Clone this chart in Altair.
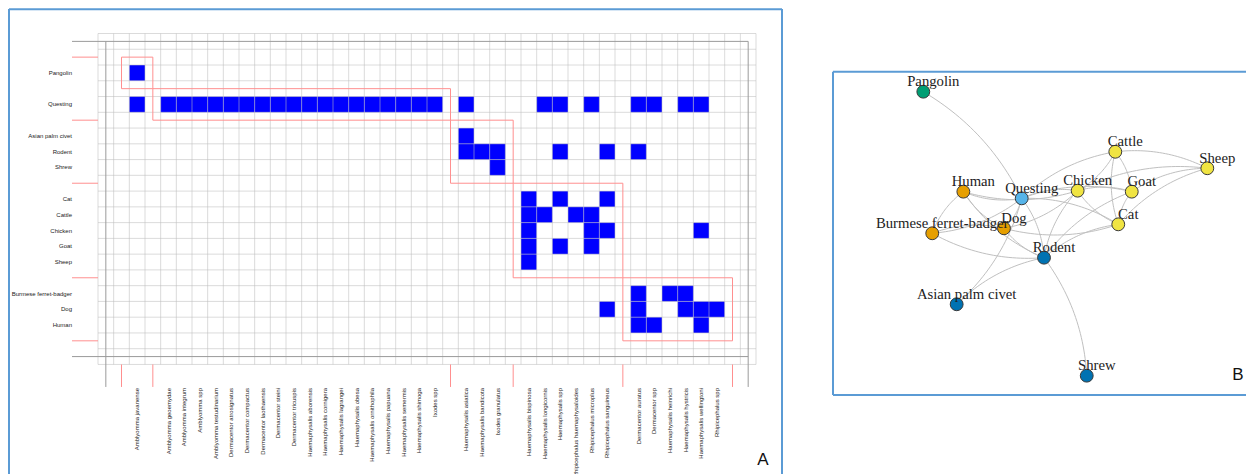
import pandas as pd
import altair as alt

# ---------------- Panel A data: modules of hosts and tick species ----------------
module_hosts = [
    ["Pangolin"],
    ["Questing"],
    ["Asian palm civet", "Rodent", "Shrew"],
    ["Cat", "Cattle", "Chicken", "Goat", "Sheep"],
    ["Burmese ferret-badger", "Dog", "Human"],
]
module_ticks = [
    ["Amblyomma javanense"],
    ["Amblyomma geoemydae", "Amblyomma integrum", "Amblyomma spp", "Amblyomma testudinarium",
     "Dermacentor atrosignatus", "Dermacentor compactus", "Dermacentor laothaensis",
     "Dermacentor steini", "Dermacentor tricuspis", "Haemaphysalis aborensis",
     "Haemaphysalis cornigera", "Haemaphysalis lagrangei", "Haemaphysalis obesa",
     "Haemaphysalis ornithophila", "Haemaphysalis papuana", "Haemaphysalis semermis",
     "Haemaphysalis shimoga", "Ixodes spp"],
    ["Haemaphysalis asiatica", "Haemaphysalis bandicota", "Ixodes granulatus"],
    ["Haemaphysalis bispinosa", "Haemaphysalis longicornis", "Haemaphysalis spp",
     "Rhipicephalus haemaphysaloides", "Rhipicephalus microplus", "Rhipicephalus sanguineus"],
    ["Dermacentor auratus", "Dermacentor spp", "Haemaphysalis heinrichi",
     "Haemaphysalis hystricis", "Haemaphysalis wellingtoni", "Rhipicephalus spp"],
]

links_pangolin = ["Amblyomma javanense"]
links_questing = ["Amblyomma javanense"] + module_ticks[1] + [
    "Haemaphysalis asiatica", "Haemaphysalis longicornis", "Haemaphysalis spp",
    "Rhipicephalus microplus", "Dermacentor auratus", "Dermacentor spp",
    "Haemaphysalis hystricis", "Haemaphysalis wellingtoni"]
links_civet = ["Haemaphysalis asiatica"]
links_rodent = ["Haemaphysalis asiatica", "Haemaphysalis bandicota", "Ixodes granulatus",
                "Haemaphysalis spp", "Rhipicephalus sanguineus", "Dermacentor auratus"]
links_shrew = ["Ixodes granulatus"]
links_cat = ["Haemaphysalis bispinosa", "Haemaphysalis spp", "Rhipicephalus sanguineus"]
links_cattle = ["Haemaphysalis bispinosa", "Haemaphysalis longicornis",
                "Rhipicephalus haemaphysaloides", "Rhipicephalus microplus"]
links_chicken = ["Haemaphysalis bispinosa", "Rhipicephalus microplus",
                 "Rhipicephalus sanguineus", "Haemaphysalis wellingtoni"]
links_goat = ["Haemaphysalis bispinosa", "Haemaphysalis spp", "Rhipicephalus microplus"]
links_sheep = ["Haemaphysalis bispinosa"]
links_badger = ["Dermacentor auratus", "Haemaphysalis heinrichi", "Haemaphysalis hystricis"]
links_dog = ["Rhipicephalus sanguineus", "Dermacentor auratus", "Haemaphysalis hystricis",
             "Haemaphysalis wellingtoni", "Rhipicephalus spp"]
links_human = ["Dermacentor auratus", "Dermacentor spp", "Haemaphysalis wellingtoni"]

links = {
    "Pangolin": links_pangolin, "Questing": links_questing,
    "Asian palm civet": links_civet, "Rodent": links_rodent, "Shrew": links_shrew,
    "Cat": links_cat, "Cattle": links_cattle, "Chicken": links_chicken,
    "Goat": links_goat, "Sheep": links_sheep,
    "Burmese ferret-badger": links_badger, "Dog": links_dog, "Human": links_human,
}

# ---------------- Panel B data: network layout ----------------
net_nodes = ["Pangolin", "Questing", "Asian palm civet", "Rodent", "Shrew", "Cat", "Cattle",
             "Chicken", "Goat", "Sheep", "Burmese ferret-badger", "Dog", "Human"]
node_x = [-1.0, -0.307, -0.765, -0.150, 0.151, 0.373, 0.352, 0.087, 0.468, 1.0, -0.937, -0.432, -0.718]
node_y = [1.0, 0.249, -0.497, -0.169, -1.0, 0.066, 0.577, 0.303, 0.296, 0.461, 0.003, 0.038, 0.296]
module_colors = ["#009E73", "#56B4E9", "#0072B2", "#F0E442", "#E69F00"]

# ---------------- layout constants ----------------
AW, AH = 775, 470          # panel A box (plot area)
BW, BH = 415, 470          # panel B box (plot area)
CW, CH = 15.667, 15.76     # cell size in px
GX0, GY0 = 90.0, 25.5      # grid origin inside panel A box
BLUE = "#5b9bd5"
RED = "#ff8f8f"

# ---------------- build panel A tables ----------------
row_labels = [""]
col_labels = [""]
mod_rows, mod_cols = [], []
for hs, ts in zip(module_hosts, module_ticks):
    row_labels.append("")
    col_labels.append("")
    mod_rows.append((len(row_labels), len(row_labels) + len(hs)))
    mod_cols.append((len(col_labels), len(col_labels) + len(ts)))
    row_labels += hs
    col_labels += ts
row_labels += ["", ""]
col_labels += ["", ""]
NR, NC = len(row_labels), len(col_labels)

cell_rows = []
for h, ts in links.items():
    r = row_labels.index(h)
    for t in ts:
        c = col_labels.index(t)
        cell_rows.append({"host": h, "tick": t, "c0": c, "c1": c + 1, "r0": r, "r1": r + 1})
cells_df = pd.DataFrame(cell_rows)

ylab_df = pd.DataFrame([{"lab": l, "x": -26 / CW, "y": i + 0.5}
                        for i, l in enumerate(row_labels) if l])
xlab_df = pd.DataFrame([{"lab": l, "x": i + 0.5, "y": NR + 23.5 / CH}
                        for i, l in enumerate(col_labels) if l])

vgrid = pd.DataFrame({"x": list(range(NC + 1)), "y0": 0, "y1": NR})
hgrid = pd.DataFrame({"y": list(range(NR + 1)), "x0": 0, "x1": NC})

mod_df = pd.DataFrame([{"x0": c[0] - 0.5, "x1": c[1] + 0.5, "y0": r[0] - 0.5, "y1": r[1] + 0.5}
                       for r, c in zip(mod_rows, mod_cols)])
row_bounds = sorted({r[0] - 0.5 for r in mod_rows} | {r[1] + 0.5 for r in mod_rows})
row_bounds = [b for b in row_bounds if b != mod_rows[1][0] - 0.5]
col_bounds = sorted({c[0] - 0.5 for c in mod_cols} | {c[1] + 0.5 for c in mod_cols})
out_left = -26 / CW
out_bottom = NR + 22.5 / CH
red_h = pd.DataFrame({"y": row_bounds, "x0": out_left, "x1": 0})
red_v = pd.DataFrame({"x": col_bounds, "y0": NR, "y1": out_bottom})
frame_h = pd.DataFrame({"y": [0.5, NR - 0.5], "x0": out_left, "x1": NC - 0.5})
frame_v = pd.DataFrame({"x": [0.5, NC - 0.5], "y0": 0.5, "y1": out_bottom})

XS = alt.Scale(domain=[-GX0 / CW, (AW - GX0) / CW], nice=False, zero=False)
YS = alt.Scale(domain=[-GY0 / CH, (AH - GY0) / CH], nice=False, zero=False, reverse=True)


def ax(f):
    return alt.X(f, scale=XS, axis=None)


def ay(f):
    return alt.Y(f, scale=YS, axis=None)


cells = alt.Chart(cells_df).mark_rect(color="#0000ff").encode(
    x=ax("c0:Q"), x2="c1:Q", y=ay("r0:Q"), y2="r1:Q")
gv = alt.Chart(vgrid).mark_rule(color="#bdbdbd", opacity=0.55, strokeWidth=1).encode(
    x=ax("x:Q"), y=ay("y0:Q"), y2="y1:Q")
gh = alt.Chart(hgrid).mark_rule(color="#bdbdbd", opacity=0.55, strokeWidth=1).encode(
    y=ay("y:Q"), x=ax("x0:Q"), x2="x1:Q")
fh = alt.Chart(frame_h).mark_rule(color="#9a9a9a", strokeWidth=1).encode(
    y=ay("y:Q"), x=ax("x0:Q"), x2="x1:Q")
fv = alt.Chart(frame_v).mark_rule(color="#9a9a9a", strokeWidth=1).encode(
    x=ax("x:Q"), y=ay("y0:Q"), y2="y1:Q")
mods = alt.Chart(mod_df).mark_rect(fill=None, stroke=RED, strokeWidth=1).encode(
    x=ax("x0:Q"), x2="x1:Q", y=ay("y0:Q"), y2="y1:Q")
rh = alt.Chart(red_h).mark_rule(color=RED, strokeWidth=1).encode(
    y=ay("y:Q"), x=ax("x0:Q"), x2="x1:Q")
rv = alt.Chart(red_v).mark_rule(color=RED, strokeWidth=1).encode(
    x=ax("x:Q"), y=ay("y0:Q"), y2="y1:Q")
ylabs = alt.Chart(ylab_df).mark_text(font="Liberation Sans", fontSize=6, color="#222222",
                                     align="right", baseline="middle").encode(
    x=ax("x:Q"), y=ay("y:Q"), text="lab:N")
xlabs = alt.Chart(xlab_df).mark_text(font="Liberation Sans", fontSize=6, color="#222222",
                                     align="right", baseline="middle", angle=270,
                                     clip=True).encode(
    x=ax("x:Q"), y=ay("y:Q"), text="lab:N")

one = pd.DataFrame({"t": ["A"]})
a_left = alt.Chart(one).mark_rule(color=BLUE, strokeWidth=2).encode(
    x=alt.value(1), y=alt.value(1), y2=alt.value(AH))
a_right = alt.Chart(one).mark_rule(color=BLUE, strokeWidth=2).encode(
    x=alt.value(AW - 1), y=alt.value(1), y2=alt.value(AH))
a_top = alt.Chart(one).mark_rule(color=BLUE, strokeWidth=2).encode(
    x=alt.value(1), x2=alt.value(AW - 1), y=alt.value(1.3))
a_lab = alt.Chart(one).mark_text(font="Liberation Sans", fontSize=17, color="#111111",
                                 baseline="middle", align="center").encode(
    text="t:N", x=alt.value(755), y=alt.value(452))

panelA = alt.layer(cells, gv, gh, fh, fv, mods, rh, rv, ylabs, xlabs,
                   a_left, a_right, a_top, a_lab).properties(width=AW, height=AH)

# ---------------- build panel B tables ----------------
host_module = {h: i for i, hs in enumerate(module_hosts) for h in hs}
nodes_df = pd.DataFrame({"name": net_nodes, "x": node_x, "y": node_y,
                         "module": [host_module[n] for n in net_nodes]})
K = 0.15
edge_pts = []
eid = 0
for i in range(len(net_nodes)):
    for j in range(i + 1, len(net_nodes)):
        a, b = net_nodes[i], net_nodes[j]
        if set(links[a]) & set(links[b]):
            x0, y0, x1, y1 = node_x[i], node_y[i], node_x[j], node_y[j]
            dx, dy = x1 - x0, y1 - y0
            cx = (x0 + x1) / 2 - K * dy
            cy = (y0 + y1) / 2 + K * dx
            n = 30
            for k in range(n + 1):
                t = k / n
                px = (1 - t) ** 2 * x0 + 2 * (1 - t) * t * cx + t ** 2 * x1
                py = (1 - t) ** 2 * y0 + 2 * (1 - t) * t * cy + t ** 2 * y1
                edge_pts.append({"eid": eid, "k": k, "x": px, "y": py})
            eid += 1
edges_df = pd.DataFrame(edge_pts)

# layout unit = 142 px; layout centre sits at (233.3, 225.7) px inside the B box
BX = alt.Scale(domain=[-233.3 / 142, (BW - 233.3) / 142], nice=False, zero=False)
BY = alt.Scale(domain=[(225.7 - BH) / 142, 225.7 / 142], nice=False, zero=False)

edges = alt.Chart(edges_df).mark_line(color="#c0c0c0", strokeWidth=1).encode(
    x=alt.X("x:Q", scale=BX, axis=None), y=alt.Y("y:Q", scale=BY, axis=None),
    detail="eid:N", order="k:Q")
nodes = alt.Chart(nodes_df).mark_circle(size=165, opacity=1, stroke="#3a3a3a", strokeWidth=1).encode(
    x=alt.X("x:Q", scale=BX, axis=None), y=alt.Y("y:Q", scale=BY, axis=None),
    color=alt.Color("module:N", scale=alt.Scale(domain=list(range(len(module_colors))),
                                                range=module_colors), legend=None))
labels = alt.Chart(nodes_df).mark_text(font="Liberation Serif", fontSize=14.7, color="#222222",
                                       align="center", baseline="alphabetic", dx=10, dy=-5.5).encode(
    x=alt.X("x:Q", scale=BX, axis=None), y=alt.Y("y:Q", scale=BY, axis=None), text="name:N")

oneb = pd.DataFrame({"t": ["B"]})
b_left = alt.Chart(oneb).mark_rule(color=BLUE, strokeWidth=2).encode(
    x=alt.value(1), y=alt.value(63.7), y2=alt.value(387))
b_top = alt.Chart(oneb).mark_rule(color=BLUE, strokeWidth=2).encode(
    x=alt.value(1), x2=alt.value(BW - 1), y=alt.value(63.7))
b_bot = alt.Chart(oneb).mark_rule(color=BLUE, strokeWidth=2).encode(
    x=alt.value(1), x2=alt.value(BW - 1), y=alt.value(387))
b_lab = alt.Chart(oneb).mark_text(font="Liberation Sans", fontSize=17, color="#111111",
                                  baseline="middle", align="center").encode(
    text="t:N", x=alt.value(406), y=alt.value(367))

panelB = alt.layer(edges, nodes, labels, b_left, b_top, b_bot, b_lab).properties(
    width=BW, height=BH)

chart = alt.hconcat(panelA, panelB, spacing=49).properties(
    padding=0, background="white").configure_view(stroke=None)

chart.save("out.html", embed_options={"renderer": "svg", "actions": False})
